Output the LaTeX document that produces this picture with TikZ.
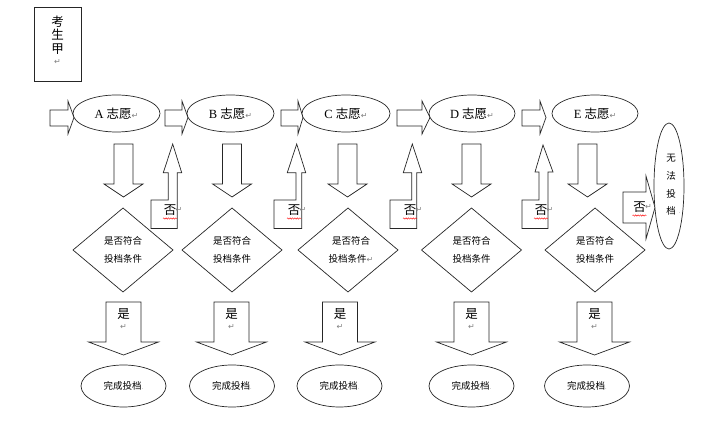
\documentclass[tikz,border=0pt]{standalone}
\usepackage{fontspec}
\setmainfont{Liberation Serif}
\newfontfamily\cjk{Noto Sans CJK SC}
\newfontfamily\symf{DejaVu Sans}
\usetikzlibrary{shapes.geometric,decorations.pathmorphing}
\tikzset{
 shp/.style={draw=black!85, line width=0.7pt, fill=white, line join=miter},
 big/.style={font=\fontsize{12.5}{14}\selectfont, inner sep=0},
 small/.style={font=\cjk\fontsize{9.5}{18}\selectfont, inner sep=0, align=center},
 pm/.style={font=\symf\fontsize{8}{8}\selectfont, text=black!50, inner sep=0},
 wavy/.style={draw=red, line width=0.4pt, decorate, decoration={snake, amplitude=0.7pt, segment length=2.4pt}}
}
% right block arrow: shaft left, head start, tip
\newcommand\myrarrow[3]{\draw[shp] (#1,110)--(#2,110)--(#2,101)--(#3,117.5)--(#2,134)--(#2,126)--(#1,126)--cycle;}
% middle down arrow
\newcommand\mydarrow[1]{\draw[shp] (#1-9.5,144)--(#1+9.5,144)--(#1+9.5,184)--(#1+19.5,184)--(#1,197)--(#1-19.5,184)--(#1-9.5,184)--cycle;}
% bent up arrow: box left, shaft left, shaft right, head left, head right, tip x, head base y, tip y
\newcommand\myuarrow[8]{\draw[shp] (#1,228.5)--(#3,228.5)--(#3,#7)--(#5,#7)--(#6,#8)--(#4,#7)--(#2,#7)--(#2,200)--(#1,200)--cycle;}
% yes arrow
\newcommand\myyarrow[1]{\draw[shp] (#1-17.5,302)--(#1+17.5,302)--(#1+17.5,342)--(#1+35,342)--(#1,355)--(#1-35,342)--(#1-17.5,342)--cycle;}
\newcommand\mydiam[2]{\coordinate (#2) at (#1,250);
 \draw[shp] (#1,208)--(#1+50,250)--(#1,292)--(#1-50,250)--cycle;}
\begin{document}
\begin{tikzpicture}[x=1pt,y=-1pt]
\useasboundingbox (0,0) rectangle (726,427);
% title box
\node[shp, minimum width=47, minimum height=74, inner sep=0] (ks) at (57.5,44) {};
\node[big, font=\cjk\fontsize{12.5}{13.5}\selectfont, align=center] (kst) at (57.5,35) {考\\生\\甲};
\node[pm] (ksm) at (57.5,62) {↵};
% right arrows
\myrarrow{50}{68}{74}
\myrarrow{165}{182}{188}
\myrarrow{281}{298}{303}
\myrarrow{397}{422}{430}
\myrarrow{522}{540}{546}
% top ellipses
\foreach \c/\w/\l/\n in {116.5/87/A/eA, 230.5/87/B/eB, 346/88/C/eC, 472/86/D/eD, 595/86/E/eE}{
 \node[shp, ellipse, minimum width=\w, minimum height=37, inner sep=0] (\n) at (\c,113.5) {};
 \node[big] at (\n) {\l~{\cjk 志愿}{\symf\fontsize{8}{8}\selectfont\color{black!50}↵}};
}
% down arrows
\mydarrow{123.5}
\mydarrow{232}
\mydarrow{347.5}
\mydarrow{471.5}
\mydarrow{587.5}
% diamonds
\mydiam{123}{dA}
\mydiam{232}{dB}
\mydiam{348}{dC}
\mydiam{471.5}{dD}
\mydiam{595}{dE}
\node[small] at (dA) {是否符合\\投档条件};
\node[small] at (dB) {是否符合\\投档条件};
\node[small] at ([xshift=3pt]dC) {是否符合\\投档条件{\symf\fontsize{8}{8}\selectfont\color{black!50}↵}};
\node[small] at (dD) {是否符合\\投档条件};
\node[small] at (dE) {是否符合\\投档条件};
% up arrows with 否
\myuarrow{151}{168.3}{177.3}{163.3}{181.7}{172.7}{172.7}{144}
\myuarrow{274}{296}{301.7}{287.3}{305.7}{296.7}{172.7}{144}
\myuarrow{390}{411.7}{416.7}{403.3}{421.7}{412.3}{172.7}{144}
\myuarrow{522}{539}{548}{535}{553}{543}{172}{145}
\foreach \x/\n in {170/nA, 294/nB, 410/nC, 541/nD}{
 \node[big, font=\cjk\fontsize{12.5}{14}\selectfont] (\n) at (\x,210) {否};
 \node[pm] at ([xshift=9pt]\n.center) {↵};
 \draw[wavy] ([xshift=-7pt,yshift=-8.5pt]\n.center) -- ([xshift=7pt,yshift=-8.5pt]\n.center);
}
% right arrow to no-admission
\draw[shp] (623,192)--(646,192)--(646,176)--(655,207.5)--(646,239)--(646,223)--(623,223)--cycle;
\node[big, font=\cjk\fontsize{12.5}{14}\selectfont] (nE) at (639.5,207) {否};
\node[pm] at ([xshift=9pt]nE.center) {↵};
\draw[wavy] ([xshift=-7pt,yshift=-8.5pt]nE.center) -- ([xshift=7pt,yshift=-8.5pt]nE.center);
\node[shp, ellipse, minimum width=30, minimum height=126, inner sep=0] (wf) at (669,186) {};
\node[small, font=\cjk\fontsize{9.5}{17.7}\selectfont] (wft) at (671,185) {无\\法\\投\\档};
\node[pm, font=\symf\fontsize{5}{5}\selectfont] at (679.5,213) {.};
% yes arrows
\foreach \x in {123.5,231.5,340,471.5,594.5}{
 \myyarrow{\x}
 \node[big, font=\cjk\fontsize{12.5}{14}\selectfont] at (\x,314.5) {是};
 \node[pm] at (\x,327) {↵};
}
% bottom ellipses
\foreach \c/\n in {123.5/fA, 232/fB, 339.5/fC, 471.5/fD, 587/fE}{
 \node[shp, ellipse, minimum width=85, minimum height=42, inner sep=0] (\n) at (\c,386) {};
 \node[small] at (\n) {完成投档{\symf\fontsize{5}{5}\selectfont\color{black!50}.}};
}
\end{tikzpicture}
\end{document}
